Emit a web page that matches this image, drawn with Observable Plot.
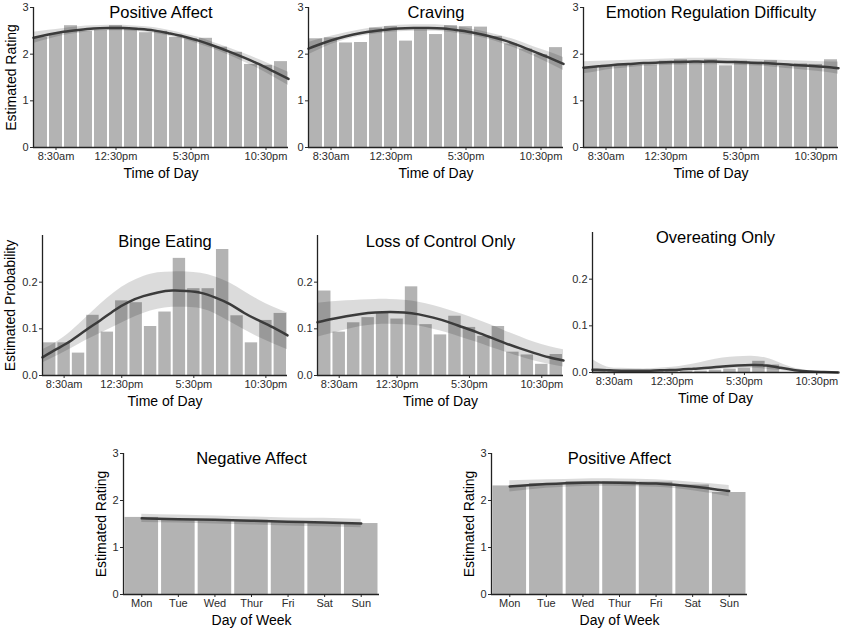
<!DOCTYPE html>
<html>
<head>
<meta charset="utf-8">
<script src="https://cdn.jsdelivr.net/npm/d3@7"></script>
<script src="https://cdn.jsdelivr.net/npm/@observablehq/plot@0.6"></script>
<style>
  html, body { margin: 0; padding: 0; background: #fff; }
  #wrap { position: relative; width: 842px; height: 629px; overflow: hidden; background: #fff; }
  #wrap svg { position: absolute; overflow: visible; }
</style>
</head>
<body>
<div id="wrap"></div>
<script>
// ---------- data ----------
const barHours = [7, 8, 9, 10, 11, 12, 13, 14, 15, 16, 17, 18, 19, 20, 21, 22, 23];
const fitHours = [7, 8, 9, 10, 11, 12, 13, 14, 15, 16, 17, 18, 19, 20, 21, 22, 23, 24];
const timeTicks = [8.5, 12.5, 17.5, 22.5];
const timeTickLabels = ["8:30am", "12:30pm", "5:30pm", "10:30pm"];
const days = ["Mon", "Tue", "Wed", "Thur", "Fri", "Sat", "Sun"];
const dayIndex = [0, 1, 2, 3, 4, 5, 6];

// Positive Affect (time of day)
const paBars = [2.36, 2.44, 2.61, 2.49, 2.51, 2.61, 2.54, 2.46, 2.49, 2.36, 2.33, 2.34, 2.15, 2.04, 1.78, 1.76, 1.84];
const paFit = [2.35, 2.42, 2.48, 2.52, 2.55, 2.56, 2.56, 2.54, 2.51, 2.45, 2.38, 2.29, 2.18, 2.06, 1.93, 1.79, 1.63, 1.47];
const paHi  = [2.47, 2.51, 2.55, 2.59, 2.61, 2.62, 2.62, 2.60, 2.57, 2.51, 2.44, 2.36, 2.25, 2.14, 2.02, 1.89, 1.75, 1.61];
const paLo  = [2.23, 2.32, 2.40, 2.45, 2.49, 2.50, 2.50, 2.48, 2.45, 2.39, 2.32, 2.22, 2.11, 1.98, 1.84, 1.69, 1.51, 1.33];

// Craving
const crBars = [2.33, 2.35, 2.24, 2.25, 2.56, 2.59, 2.28, 2.52, 2.42, 2.61, 2.59, 2.58, 2.38, 2.22, 2.11, 1.99, 2.14];
const crFit = [2.12, 2.24, 2.34, 2.42, 2.48, 2.52, 2.55, 2.56, 2.56, 2.55, 2.51, 2.46, 2.39, 2.30, 2.19, 2.06, 1.93, 1.79];
const crHi  = [2.25, 2.34, 2.42, 2.49, 2.55, 2.59, 2.62, 2.63, 2.63, 2.62, 2.58, 2.53, 2.46, 2.38, 2.28, 2.16, 2.05, 1.93];
const crLo  = [1.99, 2.14, 2.26, 2.35, 2.41, 2.45, 2.48, 2.49, 2.49, 2.48, 2.44, 2.39, 2.32, 2.22, 2.10, 1.96, 1.81, 1.65];

// Emotion Regulation Difficulty
const erBars = [1.72, 1.74, 1.76, 1.77, 1.77, 1.85, 1.88, 1.83, 1.88, 1.75, 1.85, 1.83, 1.86, 1.74, 1.79, 1.78, 1.88];
const erFit = [1.71, 1.74, 1.77, 1.79, 1.81, 1.82, 1.83, 1.84, 1.84, 1.84, 1.83, 1.82, 1.81, 1.79, 1.77, 1.75, 1.73, 1.70];
const erHi  = [1.84, 1.85, 1.86, 1.87, 1.88, 1.89, 1.90, 1.91, 1.91, 1.91, 1.90, 1.89, 1.88, 1.87, 1.86, 1.85, 1.84, 1.83];
const erLo  = [1.58, 1.63, 1.68, 1.71, 1.74, 1.75, 1.76, 1.77, 1.77, 1.77, 1.76, 1.75, 1.74, 1.71, 1.68, 1.65, 1.62, 1.57];

// Binge Eating
const beBars = [0.070, 0.070, 0.048, 0.129, 0.093, 0.160, 0.156, 0.105, 0.136, 0.251, 0.186, 0.186, 0.270, 0.128, 0.070, 0.118, 0.133];
const beFit = [0.039, 0.057, 0.075, 0.097, 0.118, 0.140, 0.158, 0.170, 0.178, 0.182, 0.181, 0.177, 0.167, 0.153, 0.134, 0.118, 0.103, 0.086];
const beHi  = [0.055, 0.072, 0.095, 0.123, 0.152, 0.178, 0.198, 0.212, 0.220, 0.222, 0.222, 0.219, 0.211, 0.198, 0.180, 0.162, 0.147, 0.134];
const beLo  = [0.027, 0.042, 0.058, 0.075, 0.090, 0.105, 0.120, 0.133, 0.142, 0.146, 0.146, 0.143, 0.132, 0.115, 0.098, 0.082, 0.068, 0.055];

// Loss of Control Only
const lcBars = [0.181, 0.093, 0.113, 0.124, 0.133, 0.121, 0.190, 0.109, 0.087, 0.127, 0.103, 0.084, 0.105, 0.050, 0.044, 0.024, 0.045];
const lcFit = [0.114, 0.121, 0.127, 0.132, 0.135, 0.136, 0.135, 0.131, 0.124, 0.115, 0.104, 0.093, 0.081, 0.069, 0.058, 0.048, 0.039, 0.032];
const lcHi  = [0.155, 0.158, 0.160, 0.162, 0.163, 0.163, 0.161, 0.157, 0.150, 0.141, 0.131, 0.120, 0.108, 0.095, 0.083, 0.071, 0.062, 0.055];
const lcLo  = [0.082, 0.090, 0.098, 0.105, 0.109, 0.110, 0.109, 0.106, 0.099, 0.091, 0.081, 0.071, 0.060, 0.050, 0.040, 0.031, 0.024, 0.018];

// Overeating Only
const oeBars = [0.003, 0.003, 0.002, 0.003, 0.003, 0.003, 0.002, 0.003, 0.005, 0.007, 0.009, 0.024, 0.016, 0.000, 0.000, 0.000, 0.000];
const oeFit = [0.006, 0.005, 0.004, 0.004, 0.004, 0.005, 0.006, 0.008, 0.010, 0.013, 0.015, 0.016, 0.015, 0.010, 0.005, 0.002, 0.001, 0.000];
const oeHi  = [0.028, 0.012, 0.009, 0.008, 0.008, 0.010, 0.013, 0.018, 0.025, 0.031, 0.034, 0.035, 0.031, 0.020, 0.009, 0.004, 0.002, 0.001];
const oeLo  = [0.001, 0.001, 0.001, 0.001, 0.002, 0.002, 0.003, 0.004, 0.005, 0.007, 0.008, 0.009, 0.007, 0.004, 0.001, 0.000, 0.000, 0.000];

// Negative Affect (day of week)
const naBars = [1.64, 1.58, 1.57, 1.58, 1.55, 1.53, 1.51];
const naFit = [1.62, 1.60, 1.59, 1.57, 1.55, 1.53, 1.51];
const naHi  = [1.71, 1.69, 1.67, 1.65, 1.63, 1.62, 1.60];
const naLo  = [1.53, 1.52, 1.50, 1.48, 1.46, 1.44, 1.42];

// Positive Affect (day of week)
const pdBars = [2.31, 2.36, 2.40, 2.40, 2.39, 2.33, 2.17];
const pdFit = [2.30, 2.35, 2.38, 2.38, 2.36, 2.30, 2.20];
const pdHi  = [2.42, 2.44, 2.46, 2.46, 2.44, 2.39, 2.32];
const pdLo  = [2.18, 2.26, 2.30, 2.30, 2.28, 2.21, 2.08];

// ---------- drawing ----------
const FONT = "'Liberation Sans', Arial, Helvetica, sans-serif";
const ML = 45, MT = 14, MR = 6, MB = 45;

function panel(o) {
  const plotH = o.yBottom - o.yTop;
  const barData = o.barStarts.map((s, i) => ({x1: s + o.barOff[0], x2: s + o.barOff[1], v: o.bars[i]}));
  const fitData = o.fitX.map((x, i) => ({x, y: o.fit[i], lo: o.lo[i], hi: o.hi[i]}));
  const marks = [
    Plot.rectY(barData, {x1: "x1", x2: "x2", y: "v", fill: "#b3b3b3", insetLeft: o.inset, insetRight: o.inset}),
    Plot.areaY(fitData, {x: "x", y1: "lo", y2: "hi", fill: "black", fillOpacity: 0.14, curve: o.curve}),
    Plot.lineY(fitData, {x: "x", y: "y", stroke: "#3b3b3b", strokeWidth: 2.5, curve: o.curve}),
    Plot.ruleY([o.yDomain[0]], {stroke: "#222", strokeWidth: 1.3}),
    Plot.ruleX([o.xDomain[0]], {y1: o.yDomain[0], y2: o.yDomain[1], stroke: "#222", strokeWidth: 1.3}),
    Plot.text([o.title], {text: d => d, frameAnchor: "top", textAnchor: "middle", lineAnchor: "middle", dy: o.titleDy, fontSize: 16.5, fill: "black"}),
    Plot.text([o.xLabel], {text: d => d, frameAnchor: "bottom", textAnchor: "middle", lineAnchor: "middle", dy: 26, fontSize: 14, fill: "black"})
  ];
  if (o.yLabel) {
    marks.push(Plot.text([o.yLabel], {text: d => d, frameAnchor: "left", textAnchor: "middle", lineAnchor: "middle", rotate: -90, dx: o.yLabelDx, fontSize: 14, fill: "black"}));
  }
  const svg = Plot.plot({
    width: ML + o.plotW + MR,
    height: MT + plotH + MB,
    marginLeft: ML, marginRight: MR, marginTop: MT, marginBottom: MB,
    style: {fontFamily: FONT, fontSize: "11px", color: "#2b2b2b", background: "transparent", overflow: "visible"},
    x: {domain: o.xDomain, ticks: o.xTicks, tickFormat: o.xFmt, tickSize: 3, tickPadding: 2, label: null},
    y: {domain: o.yDomain, ticks: o.yTicks, tickFormat: o.yFmt, tickSize: 3, tickPadding: 2, label: null},
    marks
  });
  svg.style.left = (o.axisX - ML) + "px";
  svg.style.top = (o.yTop - MT) + "px";
  svg.style.maxWidth = "none";
  document.getElementById("wrap").appendChild(svg);
}

const timeFmt = x => timeTickLabels[timeTicks.indexOf(x)];
const dayFmt = i => days[i];
const ratingTicks = [0, 1, 2, 3];
const probTicks = [0, 0.1, 0.2];
const probFmt = d3.format(".1f");

const timeBase = {
  xDomain: [7, 24], xTicks: timeTicks, xFmt: timeFmt, xLabel: "Time of Day",
  barStarts: barHours, barOff: [0, 1], inset: 1, fitX: fitHours, curve: "natural"
};
const dayBase = {
  xDomain: [-0.5, 6.5], xTicks: dayIndex, xFmt: dayFmt, xLabel: "Day of Week",
  barStarts: dayIndex, barOff: [-0.5, 0.5], inset: 1.5, fitX: dayIndex, curve: "natural"
};
const ratingY = {yDomain: [0, 3], yTicks: ratingTicks, yFmt: d => String(d), yLabelDx: -22};
const probY = {yDomain: [0, 0.3], yTicks: probTicks, yFmt: probFmt, yLabelDx: -32};

// Row 1
panel({...timeBase, ...ratingY, axisX: 33, plotW: 255, yTop: 7, yBottom: 147, titleDy: 5,
  title: "Positive Affect", yLabel: "Estimated Rating", bars: paBars, fit: paFit, lo: paLo, hi: paHi});
panel({...timeBase, ...ratingY, axisX: 308, plotW: 255, yTop: 7, yBottom: 147, titleDy: 5,
  title: "Craving", bars: crBars, fit: crFit, lo: crLo, hi: crHi});
panel({...timeBase, ...ratingY, axisX: 583, plotW: 255, yTop: 7, yBottom: 147, titleDy: 5,
  title: "Emotion Regulation Difficulty", bars: erBars, fit: erFit, lo: erLo, hi: erHi});

// Row 2
panel({...timeBase, ...probY, axisX: 42, plotW: 245, yTop: 235, yBottom: 375, titleDy: 6,
  title: "Binge Eating", yLabel: "Estimated Probability", bars: beBars, fit: beFit, lo: beLo, hi: beHi});
panel({...timeBase, ...probY, axisX: 317, plotW: 246, yTop: 235, yBottom: 375, titleDy: 6,
  title: "Loss of Control Only", bars: lcBars, fit: lcFit, lo: lcLo, hi: lcHi});
panel({...timeBase, ...probY, axisX: 592, plotW: 246, yTop: 232, yBottom: 372, titleDy: 5,
  title: "Overeating Only", bars: oeBars, fit: oeFit, lo: oeLo, hi: oeHi});

// Row 3
panel({...dayBase, ...ratingY, axisX: 123, plotW: 256, yTop: 453, yBottom: 594, titleDy: 5,
  title: "Negative Affect", yLabel: "Estimated Rating", bars: naBars, fit: naFit, lo: naLo, hi: naHi});
panel({...dayBase, ...ratingY, axisX: 491, plotW: 256, yTop: 453, yBottom: 594, titleDy: 5,
  title: "Positive Affect", yLabel: "Estimated Rating", bars: pdBars, fit: pdFit, lo: pdLo, hi: pdHi});
</script>
</body>
</html>
